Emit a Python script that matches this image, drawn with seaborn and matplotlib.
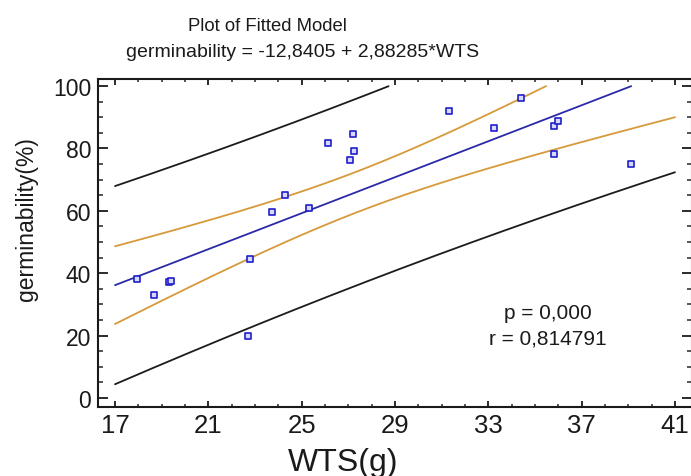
import numpy as np
import pandas as pd
import matplotlib
matplotlib.use("Agg")
import matplotlib.pyplot as plt
from matplotlib.ticker import MultipleLocator
import seaborn as sns

wts = [17.96, 18.68, 19.33, 19.40, 22.71, 22.79, 23.72, 24.30, 25.32, 26.13,
       27.09, 27.19, 27.26, 31.33, 33.26, 34.39, 35.80, 36.00, 35.82, 39.10]
germ = [38.1, 33.1, 37.3, 37.5, 20.0, 44.6, 59.5, 65.1, 60.8, 81.7,
        76.4, 84.7, 79.3, 91.9, 86.4, 96.2, 87.1, 88.9, 78.1, 75.1]

# fitted model from the title
intercept = -12.8405
slope = 2.88285
t_crit = 2.101  # 95%, n-2 = 18 df

title1 = "Plot of Fitted Model"
title2 = "germinability = -12,8405 + 2,88285*WTS"
stats_lines = ["p = 0,000", "r = 0,814791"]

sns.set_theme(style="ticks")
plt.rcParams["font.family"] = ["Liberation Sans", "DejaVu Sans"]

df = pd.DataFrame({"WTS": wts, "germ": germ})

# confidence and prediction limits around the fitted line
x = np.asarray(wts)
y = np.asarray(germ)
n = len(x)
resid = y - (intercept + slope * x)
s = np.sqrt(np.sum(resid ** 2) / (n - 2))
sxx = np.sum((x - x.mean()) ** 2)
grid = np.linspace(17, 41, 961)
fit = intercept + slope * grid
lev = 1.0 / n + (grid - x.mean()) ** 2 / sxx
conf = t_crit * s * np.sqrt(lev)
pred = t_crit * s * np.sqrt(1 + lev)

fig = plt.figure(figsize=(6.91, 4.77), dpi=100)
ax = fig.add_axes([98 / 691, 1 - 408 / 477, 594 / 691, 328 / 477])

curves = [
    (fit + pred, "#1c1c1c"), (fit - pred, "#1c1c1c"),
    (fit + conf, "#d69a3a"), (fit - conf, "#d69a3a"),
    (fit, "#2a2aa8"),
]
for vals, col in curves:
    keep = (vals <= 100) & (vals >= 0)
    sns.lineplot(x=grid[keep], y=vals[keep], color=col, lw=1.3, ax=ax,
                 estimator=None, sort=False)

sns.scatterplot(data=df, x="WTS", y="germ", ax=ax, marker="s", s=14,
                facecolor="#d8d8ff", edgecolor="#1f1fc8", linewidth=1.2,
                zorder=5)

ax.set_xlim(16.27, 41.73)
ax.set_ylim(-2.88, 102.24)
ax.xaxis.set_minor_locator(MultipleLocator(1))
ax.yaxis.set_major_locator(MultipleLocator(20))
ax.yaxis.set_minor_locator(MultipleLocator(5))
ax.set_xticks(np.arange(17, 42, 4))

for sp in ax.spines.values():
    sp.set_visible(True)
    sp.set_linewidth(1.5)
    sp.set_color("#1a1a1a")

ax.tick_params(axis="x", which="major", direction="in", length=4, width=1.3,
               top=True, bottom=True, pad=4.5, labelsize=18.5, colors="#1a1a1a")
ax.tick_params(axis="x", which="minor", direction="in", length=2, width=1.1,
               top=True, bottom=True)
ax.tick_params(axis="y", which="major", direction="in", length=7.5, width=1.3,
               left=True, right=True, pad=5, labelsize=16.5, colors="#1a1a1a")
ax.tick_params(axis="y", which="minor", direction="in", length=3.6, width=1.1,
               left=True, right=True)

ax.set_xlabel("WTS(g)", fontsize=23, color="#1a1a1a")
ax.xaxis.set_label_coords(0.4125, -0.192)
ax.xaxis.label.set_va("baseline")
ax.set_ylabel("germinability(%)", fontsize=16.5, color="#1a1a1a")
ax.yaxis.set_label_coords(-0.1212, 0.576)
ax.yaxis.label.set_va("center")
ax.yaxis.label.set_ha("center")

ax.text(35.56, 27.3, stats_lines[0], ha="center", va="center", fontsize=15, color="#1a1a1a")
ax.text(35.56, 19.2, stats_lines[1], ha="center", va="center", fontsize=15, color="#1a1a1a")

fig.text(267.5 / 691, 1 - 31 / 477, title1, ha="center", va="baseline",
         fontsize=13.3, color="#1a1a1a")
fig.text(303 / 691, 1 - 57 / 477, title2, ha="center", va="baseline",
         fontsize=14, color="#1a1a1a")

fig.savefig("out.png", dpi=100)
